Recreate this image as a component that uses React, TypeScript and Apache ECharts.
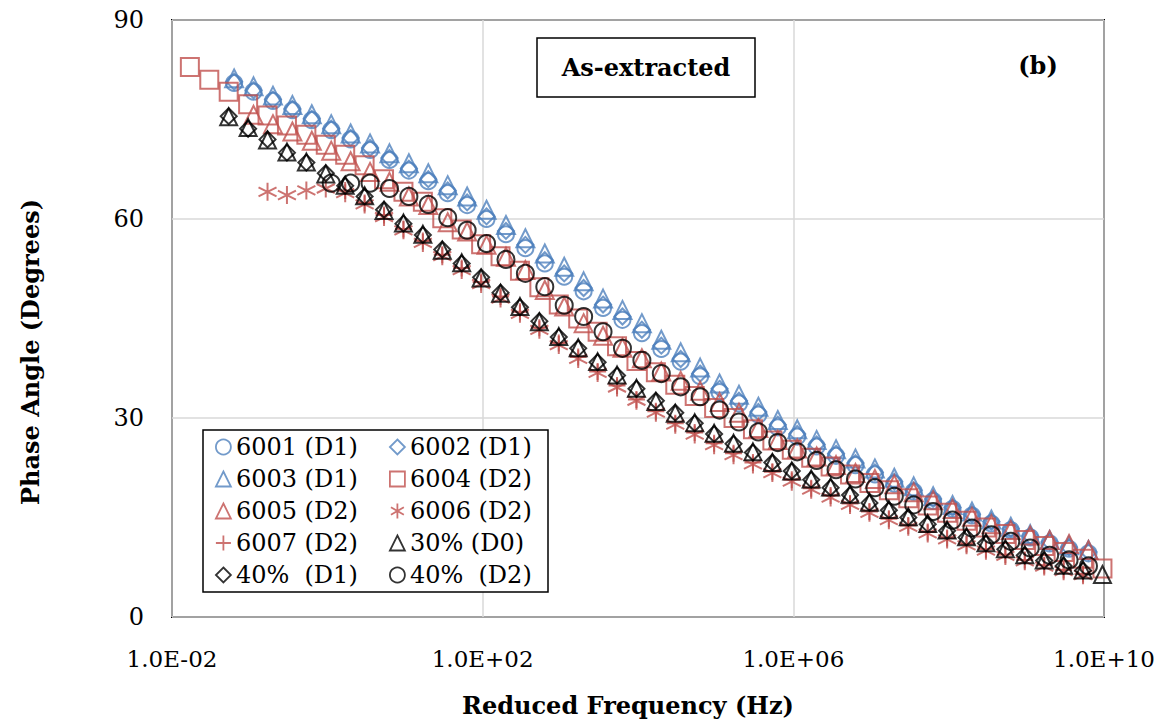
import React, { useEffect, useRef } from "react";
import * as echarts from "echarts";

// log10 of reduced frequency (Hz) for two sampling grids
const gridG = [-1.77, -1.52, -1.27, -1.02, -0.77, -0.52, -0.27, -0.02, 0.23, 0.48, 0.73, 0.98, 1.23, 1.48, 1.73, 1.98, 2.23, 2.48, 2.73, 2.98, 3.23, 3.48, 3.73, 3.98, 4.23, 4.48, 4.73, 4.98, 5.23, 5.48, 5.73, 5.98, 6.23, 6.48, 6.73, 6.98, 7.23, 7.48, 7.73, 7.98, 8.23, 8.48, 8.73, 8.98, 9.23, 9.48, 9.73, 9.98];
const gridH = [-1.70, -1.45, -1.20, -0.95, -0.70, -0.45, -0.20, 0.05, 0.30, 0.55, 0.80, 1.05, 1.30, 1.55, 1.80, 2.05, 2.30, 2.55, 2.80, 3.05, 3.30, 3.55, 3.80, 4.05, 4.30, 4.55, 4.80, 5.05, 5.30, 5.55, 5.80, 6.05, 6.30, 6.55, 6.80, 7.05, 7.30, 7.55, 7.80, 8.05, 8.30, 8.55, 8.80, 9.05, 9.30, 9.55, 9.80];

// phase angle (degrees)
const phase6001 = [80.5, 79.2, 77.8, 76.4, 74.9, 73.4, 72.0, 70.4, 68.9, 67.3, 65.7, 63.9, 62.1, 60.0, 57.7, 55.6, 53.3, 51.3, 49.1, 46.6, 44.8, 42.8, 40.4, 38.5, 36.3, 33.9, 32.2, 30.5, 28.6, 27.2, 25.7, 24.3, 22.9, 21.5, 20.1, 18.9, 17.5, 16.3, 15.3, 14.1, 13.1, 12.0, 11.1, 10.3, 9.6];
const phase6002 = [80.7, 79.4, 78.0, 76.6, 75.1, 73.6, 72.2, 70.7, 69.2, 67.6, 66.0, 64.3, 62.5, 60.4, 58.2, 56.1, 53.8, 51.8, 49.6, 47.1, 45.3, 43.3, 40.9, 38.9, 36.7, 34.4, 32.6, 30.9, 29.0, 27.6, 26.0, 24.6, 23.2, 21.8, 20.4, 19.1, 17.8, 16.5, 15.5, 14.4, 13.3, 12.2, 11.3, 10.5, 9.8];
const phase6003 = [81.2, 80.0, 78.6, 77.2, 75.8, 74.3, 72.9, 71.4, 69.9, 68.4, 66.9, 65.1, 63.4, 61.4, 59.1, 57.1, 54.8, 52.8, 50.6, 48.0, 46.3, 44.3, 41.8, 39.9, 37.6, 35.2, 33.5, 31.7, 29.7, 28.3, 26.7, 25.3, 23.9, 22.4, 21.0, 19.7, 18.2, 16.9, 15.9, 14.7, 13.6, 12.5, 11.6, 10.8, 10.1];
const phase6004 = [82.9, 81.0, 79.2, 77.3, 75.6, 74.1, 72.7, 71.2, 69.7, 68.1, 66.0, 64.1, 62.6, 60.1, 58.4, 56.2, 54.4, 52.2, 49.7, 47.1, 45.0, 43.0, 40.8, 38.6, 36.9, 35.0, 33.3, 31.5, 30.0, 28.3, 26.6, 25.2, 24.0, 22.7, 21.5, 20.2, 19.1, 17.9, 16.8, 15.7, 14.5, 13.5, 12.5, 11.6, 10.7, 9.8, 8.8, 7.3];
const phase6005 = [75.7, 74.3, 73.2, 71.8, 70.3, 68.7, 67.1, 65.6, 63.4, 62.1, 59.5, 58.1, 56.1, 54.3, 52.3, 49.3, 46.8, 44.3, 42.4, 40.6, 39.0, 37.0, 35.6, 34.1, 32.4, 30.8, 28.5, 26.7, 25.4, 24.2, 22.9, 21.7, 20.8, 20.0, 18.8, 17.6, 16.3, 15.1, 14.0, 13.1, 12.3, 11.6, 11.0, 10.1];
const phase6006 = [64.1, 63.6, 64.3, 64.6, 63.9, 62.2, 60.3, 58.3, 56.4, 54.4, 52.3, 50.2, 48.0, 45.7, 43.3, 41.0, 38.9, 36.8, 34.6, 32.6, 30.8, 29.0, 27.5, 25.9, 24.4, 23.0, 21.7, 20.4, 19.2, 18.0, 16.9, 15.7, 14.6, 13.6, 12.6, 11.7, 10.8, 10.0, 9.2, 8.4, 7.6, 6.9, 6.3];
const phase6007 = [64.3, 62.4, 60.6, 58.5, 56.7, 54.6, 52.6, 50.5, 48.3, 46.0, 43.6, 41.3, 39.2, 37.0, 34.9, 32.8, 31.0, 29.2, 27.8, 26.2, 24.7, 23.3, 21.9, 20.7, 19.4, 18.3, 17.1, 15.9, 14.8, 13.8, 12.8, 11.9, 11.0, 10.2, 9.4, 8.6, 7.8, 7.1, 6.5];
const phase30D0 = [75.4, 73.8, 71.9, 70.1, 68.6, 66.8, 65.1, 63.5, 61.3, 59.4, 57.7, 55.3, 53.4, 51.1, 48.8, 46.8, 44.5, 42.3, 40.6, 38.5, 36.5, 34.5, 32.5, 30.7, 29.3, 27.7, 26.2, 24.9, 23.3, 22.0, 20.8, 19.6, 18.5, 17.3, 16.2, 15.1, 14.1, 13.1, 12.1, 11.2, 10.3, 9.4, 8.6, 7.8, 7.1, 6.4];
const phase40D1 = [75.5, 73.6, 72.0, 70.0, 68.5, 66.9, 65.0, 63.4, 61.4, 59.3, 57.6, 55.4, 53.3, 51.2, 48.9, 46.7, 44.6, 42.2, 40.5, 38.4, 36.4, 34.4, 32.6, 30.8, 29.2, 27.6, 26.1, 24.8, 23.3, 22.0, 20.7, 19.5, 18.4, 17.2, 16.1, 15.0, 14.0, 13.0, 12.0, 11.1, 10.2, 9.3, 8.5, 7.7, 7.0];
const phase40D2 = [65.4, 65.4, 65.4, 64.6, 63.4, 62.2, 60.2, 58.3, 56.3, 53.9, 51.8, 49.8, 47.0, 45.3, 43.0, 40.5, 38.7, 36.7, 34.7, 33.2, 31.2, 29.4, 27.9, 26.3, 24.9, 23.6, 22.2, 20.8, 19.5, 18.2, 16.9, 15.9, 14.6, 13.4, 12.4, 11.4, 10.4, 9.3, 8.6, 7.7];

const xTicks = [-2, 2, 6, 10];
const yTicks = [0, 30, 60, 90];

const BLUE = "#4F81BD";
const RED = "#C0504D";
const BLACK = "#000000";

const ASTERISK = "path://M5,0L5,10M0.7,2.5L9.3,7.5M0.7,7.5L9.3,2.5";
const PLUS = "path://M0,5L10,5M5,0L5,10";

const seriesDefs = [
  { name: "6001 (D1)", grid: gridH, start: 2, vals: phase6001, color: BLUE, symbol: "circle", size: 16 },
  { name: "6002 (D1)", grid: gridH, start: 2, vals: phase6002, color: BLUE, symbol: "diamond", size: 16 },
  { name: "6003 (D1)", grid: gridH, start: 2, vals: phase6003, color: BLUE, symbol: "triangle", size: 18 },
  { name: "6004 (D2)", grid: gridG, start: 0, vals: phase6004, color: RED, symbol: "rect", size: 18 },
  { name: "6005 (D2)", grid: gridH, start: 3, vals: phase6005, color: RED, symbol: "triangle", size: 18 },
  { name: "6006 (D2)", grid: gridG, start: 4, vals: phase6006, color: RED, symbol: ASTERISK, size: 18 },
  { name: "6007 (D2)", grid: gridG, start: 8, vals: phase6007, color: RED, symbol: PLUS, size: 17 },
  { name: "30% (D0)", grid: gridG, start: 2, vals: phase30D0, color: BLACK, symbol: "triangle", size: 17 },
  { name: "40%  (D1)", grid: gridG, start: 2, vals: phase40D1, color: BLACK, symbol: "diamond", size: 16 },
  { name: "40%  (D2)", grid: gridH, start: 7, vals: phase40D2, color: BLACK, symbol: "circle", size: 17 },
];

const fmtExp = (v: number) => {
  const s = String(Math.abs(Math.round(v))).padStart(2, "0");
  return "1.0E" + (v < 0 ? "-" : "+") + s;
};

const SERIF = "DejaVu Serif";

export default function App() {
  const ref = useRef<HTMLDivElement>(null);
  useEffect(() => {
    if (!ref.current) return;
    const chart = echarts.init(ref.current, undefined, { renderer: "svg" });
    const series = seriesDefs.map((d) => ({
      name: d.name,
      type: "scatter",
      symbol: d.symbol,
      symbolSize: d.size,
      data: d.vals
        .map((v, i) => [d.grid[d.start + i], v])
        .filter((p) => p[0] !== undefined),
      itemStyle: { color: "rgba(0,0,0,0)", borderColor: d.color, borderWidth: 2 },
      emphasis: { disabled: true },
    }));
    const legendItem = (d: any) => ({
      name: d.name,
      icon: d.symbol,
      itemStyle: { color: "rgba(0,0,0,0)", borderColor: d.color, borderWidth: 1.8 },
    });
    const legendCommon = {
      orient: "vertical",
      itemWidth: 15,
      itemHeight: 15,
      itemGap: 8,
      selectedMode: false,
      textStyle: { fontFamily: SERIF, fontSize: 24, color: "#000", padding: [0, 0, 0, 0] },
      padding: 0,
      z: 6,
    };
    chart.setOption({
      animation: false,
      grid: {
        left: 172,
        right: 58,
        top: 20,
        bottom: 108,
        show: true,
        borderColor: "#000",
        borderWidth: 2,
        backgroundColor: "#fff",
      },
      xAxis: {
        type: "value",
        min: xTicks[0],
        max: xTicks[xTicks.length - 1],
        interval: xTicks[1] - xTicks[0],
        axisLine: { show: false },
        axisTick: { show: false },
        splitLine: { show: true, lineStyle: { color: "#d9d9d9", width: 1.5 } },
        axisLabel: {
          margin: 30,
          fontFamily: SERIF,
          fontSize: 23,
          color: "#000",
          formatter: (v: number) => fmtExp(v),
        },
      },
      yAxis: {
        type: "value",
        min: yTicks[0],
        max: yTicks[yTicks.length - 1],
        interval: yTicks[1] - yTicks[0],
        axisLine: { show: false },
        axisTick: { show: false },
        splitLine: { show: true, lineStyle: { color: "#d9d9d9", width: 1.5 } },
        axisLabel: { margin: 28, fontFamily: SERIF, fontSize: 24, color: "#000" },
      },
      legend: [
        {
          ...legendCommon,
          left: 215,
          top: 435,
          data: [0, 2, 4, 6, 8].map((i) => legendItem(seriesDefs[i])),
        },
        {
          ...legendCommon,
          left: 389,
          top: 435,
          data: [1, 3, 5, 7, 9].map((i) => legendItem(seriesDefs[i])),
        },
      ],
      graphic: [
        {
          type: "rect",
          z: 1,
          shape: { x: 203, y: 430, width: 345, height: 162 },
          style: { fill: "#fff", stroke: "#000", lineWidth: 1.5 },
        },
        {
          type: "rect",
          z: 1,
          shape: { x: 537, y: 38, width: 218, height: 59 },
          style: { fill: "#fff", stroke: "#000", lineWidth: 1.5 },
        },
        {
          type: "text",
          z: 5,
          x: 646,
          y: 67,
          style: {
            text: "As-extracted",
            fontFamily: SERIF,
            fontWeight: "bold",
            fontSize: 24,
            fill: "#000",
            textAlign: "center",
            textVerticalAlign: "middle",
          },
        },
        {
          type: "text",
          z: 5,
          x: 1038,
          y: 65,
          style: {
            text: "(b)",
            fontFamily: SERIF,
            fontWeight: "bold",
            fontSize: 24,
            fill: "#000",
            textAlign: "center",
            textVerticalAlign: "middle",
          },
        },
        {
          type: "text",
          z: 5,
          x: 628,
          y: 705,
          style: {
            text: "Reduced Frequency (Hz)",
            fontFamily: SERIF,
            fontWeight: "bold",
            fontSize: 24,
            fill: "#000",
            textAlign: "center",
            textVerticalAlign: "middle",
          },
        },
        {
          type: "text",
          z: 5,
          x: 30,
          y: 352,
          rotation: Math.PI / 2,
          style: {
            text: "Phase Angle (Degrees)",
            fontFamily: SERIF,
            fontWeight: "bold",
            fontSize: 24,
            fill: "#000",
            textAlign: "center",
            textVerticalAlign: "middle",
          },
        },
      ],
      series,
    });
    return () => chart.dispose();
  }, []);
  return (
    <div
      ref={ref}
      style={{ position: "fixed", left: 0, top: 0, width: 1162, height: 725, background: "#fff" }}
    />
  );
}
